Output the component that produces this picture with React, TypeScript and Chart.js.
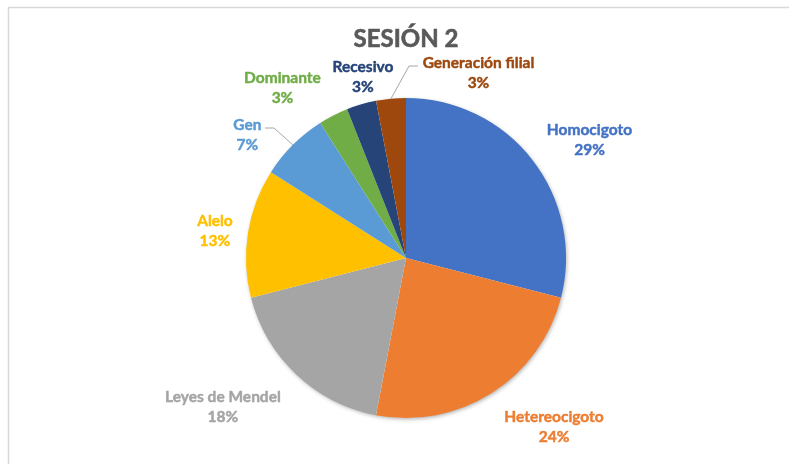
import { useEffect, useRef } from 'react';
import { Chart, registerables } from 'chart.js';

Chart.register(...registerables);

const titleText = 'SESIÓN 2';
const categories = [
  'Homocigoto',
  'Hetereocigoto',
  'Leyes de Mendel',
  'Alelo',
  'Gen',
  'Dominante',
  'Recesivo',
  'Generación filial',
];
const values = [29, 24, 18, 13, 7, 3, 3, 3];
const colors = ['#4472C4', '#ED7D31', '#A5A5A5', '#FFC000', '#5B9BD5', '#70AD47', '#264478', '#9E480E'];

// label block centers, relative to the pie center in radius units (styling, not data)
const labelOffsets: [number, number][] = [
  [1.147, -0.744],
  [0.925, 1.05],
  [-1.144, 0.928],
  [-1.194, -0.175],
  [-0.991, -0.775],
  [-0.772, -1.066],
  [-0.269, -1.134],
  [0.453, -1.159],
];
// leader lines: index -> [bend point, end point] in radius units
const leaderLines: Record<number, [[number, number], [number, number]]> = {
  4: [[-0.825, -0.8125], [-0.881, -0.8125]],
  7: [[0.019, -1.2], [0.075, -1.2]],
};

const FONT = 'Lato, "Open Sans", sans-serif';

const labelPlugin = {
  id: 'customLabels',
  beforeDraw(chart: any) {
    const ctx = chart.ctx;
    ctx.save();
    ctx.fillStyle = '#ffffff';
    ctx.fillRect(0, 0, chart.width, chart.height);
    ctx.strokeStyle = '#D9D9D9';
    ctx.lineWidth = 1.5;
    ctx.beginPath();
    ctx.moveTo(8.5, chart.height);
    ctx.lineTo(8.5, 7.5);
    ctx.lineTo(chart.width, 7.5);
    ctx.stroke();
    ctx.restore();
  },
  beforeDatasetsDraw(chart: any) {
    const meta = chart.getDatasetMeta(0);
    const arc = meta.data[0];
    if (!arc) return;
    const { x, y, outerRadius } = arc.getProps(['x', 'y', 'outerRadius'], true);
    const ctx = chart.ctx;
    ctx.save();
    ctx.shadowColor = 'rgba(0,0,0,0.35)';
    ctx.shadowBlur = 4;
    ctx.shadowOffsetX = 1;
    ctx.shadowOffsetY = 1.5;
    ctx.fillStyle = '#ffffff';
    ctx.beginPath();
    ctx.arc(x, y, outerRadius - 0.5, 0, Math.PI * 2);
    ctx.fill();
    ctx.restore();
  },
  afterDatasetsDraw(chart: any) {
    const ctx = chart.ctx;
    const meta = chart.getDatasetMeta(0);
    const total = values.reduce((a, b) => a + b, 0);
    ctx.save();
    // title
    const first = meta.data[0];
    const { x: cx, y: cy, outerRadius: r } = first.getProps(['x', 'y', 'outerRadius'], true);
    const tSize = 24;
    ctx.font = `bold ${tSize}px ${FONT}`;
    ctx.fillStyle = '#595959';
    ctx.strokeStyle = '#595959';
    ctx.lineWidth = 0.6;
    ctx.lineJoin = 'round';
    ctx.textAlign = 'center';
    ctx.textBaseline = 'alphabetic';
    const ty = 38.5 + (0.72 * tSize) / 2;
    ctx.fillText(titleText, cx, ty);
    ctx.strokeText(titleText, cx, ty);

    const size = 15.5;
    const capH = 0.72 * size;
    meta.data.forEach((el: any, i: number) => {
      const p = el.getProps(['startAngle', 'endAngle'], true);
      const mid = (p.startAngle + p.endAngle) / 2;
      const lead = leaderLines[i];
      if (lead) {
        ctx.strokeStyle = '#A6A6A6';
        ctx.lineWidth = 1;
        ctx.beginPath();
        ctx.moveTo(cx + Math.cos(mid) * r, cy + Math.sin(mid) * r);
        ctx.lineTo(cx + lead[0][0] * r, cy + lead[0][1] * r);
        ctx.lineTo(cx + lead[1][0] * r, cy + lead[1][1] * r);
        ctx.stroke();
      }
      const lx = cx + labelOffsets[i][0] * r;
      const ly = cy + labelOffsets[i][1] * r;
      const pct = Math.round((values[i] / total) * 100) + '%';
      ctx.font = `bold ${size}px ${FONT}`;
      ctx.fillStyle = colors[i];
      ctx.strokeStyle = colors[i];
      ctx.lineWidth = 0.45;
      ctx.textAlign = 'center';
      ctx.fillText(categories[i], lx, ly - 10 + capH / 2);
      ctx.strokeText(categories[i], lx, ly - 10 + capH / 2);
      ctx.fillText(pct, lx, ly + 10 + capH / 2);
      ctx.strokeText(pct, lx, ly + 10 + capH / 2);
    });
    ctx.restore();
  },
};

export default function App() {
  const ref = useRef<HTMLCanvasElement>(null);
  useEffect(() => {
    if (!ref.current) return;
    const chart = new Chart(ref.current, {
      type: 'pie',
      data: {
        labels: categories,
        datasets: [
          {
            data: values,
            backgroundColor: colors,
            borderWidth: 0,
          },
        ],
      },
      options: {
        responsive: false,
        animation: false,
        layout: { padding: { left: 246, right: 223, top: 98, bottom: 46 } },
        plugins: {
          legend: { display: false },
          tooltip: { enabled: false },
          title: { display: false },
        },
      },
      plugins: [labelPlugin],
    });
    return () => chart.destroy();
  }, []);
  return (
    <div style={{ position: 'fixed', left: 0, top: 0, width: 789, height: 464, background: '#fff' }}>
      <canvas ref={ref} width={789} height={464} style={{ display: 'block', width: 789, height: 464 }} />
    </div>
  );
}
